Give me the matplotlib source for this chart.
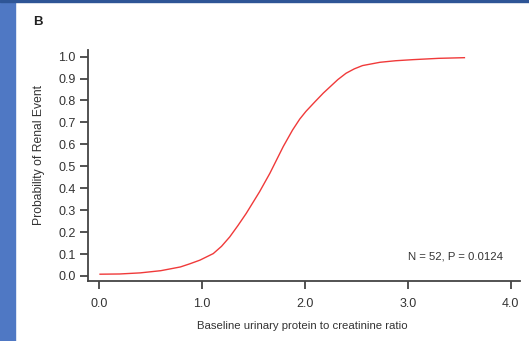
import matplotlib.pyplot as plt
from matplotlib.patches import Rectangle

# values
upcr = [0.01, 0.20, 0.40, 0.60, 0.79, 0.88, 0.98, 1.11, 1.19, 1.27, 1.35, 1.43,
        1.56, 1.66, 1.79, 1.88, 1.95, 2.01, 2.10, 2.18, 2.32, 2.40, 2.48,
        2.56, 2.73, 2.88, 3.05, 3.30, 3.55]
prob = [0.008, 0.009, 0.014, 0.024, 0.041, 0.055, 0.072, 0.102, 0.135, 0.178,
        0.23, 0.285, 0.384, 0.468, 0.59, 0.665, 0.715, 0.750, 0.795, 0.834,
        0.895, 0.924, 0.944, 0.959, 0.974, 0.981, 0.986, 0.992, 0.995]

xticks = [0.0, 1.0, 2.0, 3.0, 4.0]
yticks = [i / 10 for i in range(11)]
note = "N = 52, P = 0.0124"

plt.rcParams['font.family'] = ['Liberation Sans', 'DejaVu Sans']
txt = '#333333'

fig = plt.figure(figsize=(5.29, 3.41), dpi=100)
fig.patches.append(Rectangle((0, 0), 15 / 529, 1, transform=fig.transFigure,
                             color='#4f78c4', zorder=0))
fig.patches.append(Rectangle((0, 1 - 2 / 341), 1, 2 / 341, transform=fig.transFigure,
                             color='#2e5596', zorder=0))

ax = fig.add_axes([88 / 529, 60 / 341, 432 / 529, 231 / 341])
ax.plot(upcr, prob, color='#f03a3a', lw=1.0)

ax.set_xlim(-0.107, 4.09)
ax.set_ylim(-0.023, 1.03)
ax.set_xticks(xticks)
ax.set_xticklabels([f"{v:.1f}" for v in xticks])
ax.set_yticks(yticks)
ax.set_yticklabels([f"{v:.1f}" for v in yticks])
for s in ['top', 'right']:
    ax.spines[s].set_visible(False)
for s in ['left', 'bottom']:
    ax.spines[s].set_color('#444444')
    ax.spines[s].set_linewidth(1.3)
ax.tick_params(length=6, width=1.3, color='#444444', labelsize=9, labelcolor=txt, pad=3)
ax.tick_params(axis='x', pad=6)

ax.set_xlabel('Baseline urinary protein to creatinine ratio', fontsize=8.2, color=txt)
ax.xaxis.set_label_coords(0.497, -0.175)
ax.set_ylabel('Probability of Renal Event', fontsize=8.7, color=txt)
ax.yaxis.set_label_coords(-0.10, 0.545)
ax.text(3.92, 0.09, note, fontsize=8.2, color=txt, ha='right', va='center')
fig.text(33 / 529, 1 - 22 / 341, 'B', fontsize=9.5, fontweight='bold', color='#222222',
         va='center', ha='left')

fig.savefig('out.png', dpi=100)
